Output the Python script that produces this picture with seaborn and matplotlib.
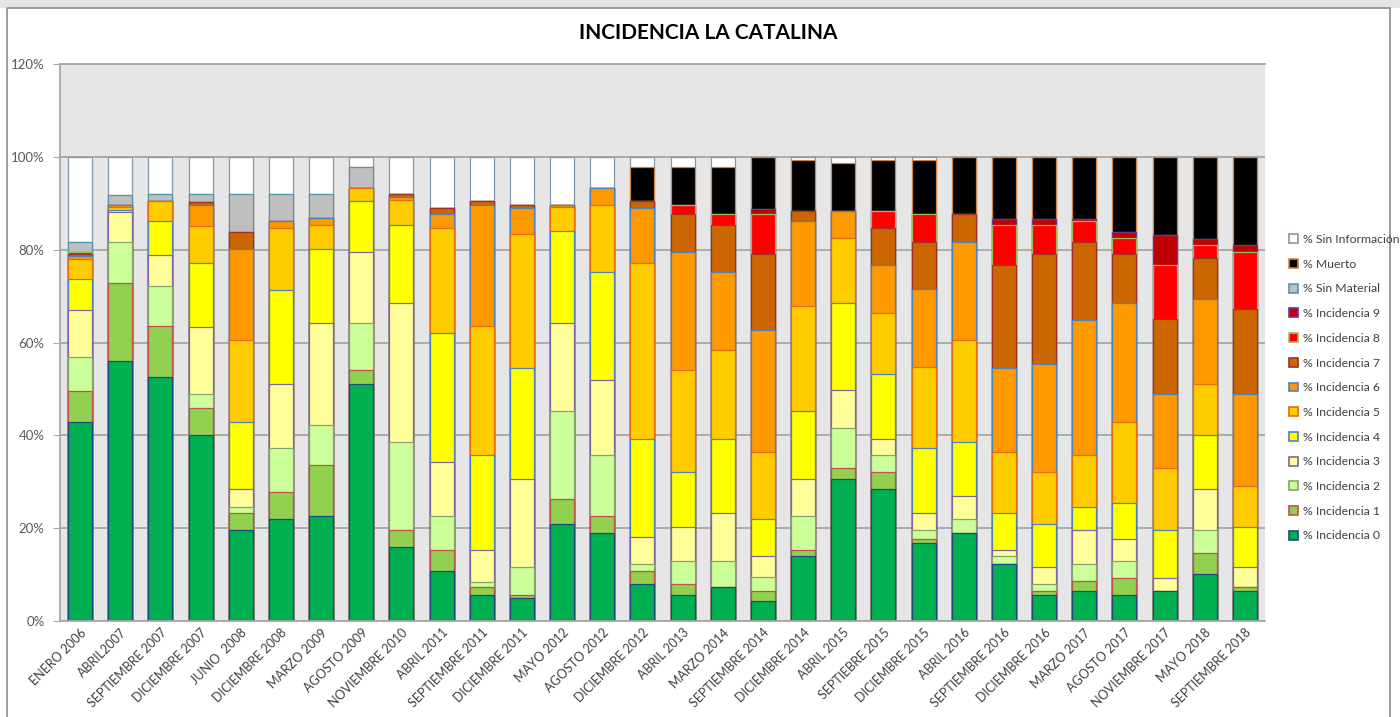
import numpy as np
import matplotlib
matplotlib.use("Agg")
import matplotlib.pyplot as plt
import seaborn as sns
from matplotlib.patches import Rectangle

plt.rcParams["font.family"] = ["Lato", "DejaVu Sans"]

fechas = ["ENERO 2006", "ABRIL2007", "SEPTIEMBRE 2007", "DICIEMBRE 2007", "JUNIO  2008",
          "DICIEMBRE 2008", "MARZO 2009", "AGOSTO 2009", "NOVIEMBRE 2010", "ABRIL 2011",
          "SEPTIEMBRE 2011", "DICIEMBRE 2011", "MAYO 2012", "AGOSTO 2012", "DICIEMBRE 2012",
          "ABRIL 2013", "MARZO 2014", "SEPTIEMBRE 2014", "DICIEMBRE 2014", "ABRIL 2015",
          "SEPTIEBRE 2015", "DICIEMBRE 2015", "ABRIL 2016", "SEPTIEMBRE 2016", "DICIEMBRE 2016",
          "MARZO 2017", "AGOSTO 2017", "NOVIEMBRE 2017", "MAYO 2018", "SEPTIEMBRE 2018"]

# Percentages per sampling date
inc0 = [42.9, 56.1, 52.5, 40.0, 19.5, 21.9, 22.6, 51.0, 16.0, 10.8, 5.7, 5.0, 21.0, 18.9, 7.9,
        5.6, 7.3, 4.3, 13.9, 30.6, 28.4, 16.7, 18.9, 12.2, 5.7, 6.5, 5.7, 6.5, 10.1, 6.5]
inc1 = [6.7, 16.8, 11.0, 5.9, 3.7, 5.8, 11.0, 3.1, 3.6, 4.5, 1.6, 0.6, 5.2, 3.7, 2.9,
        2.3, 0.0, 2.2, 1.4, 2.3, 3.6, 0.9, 0.0, 0.0, 0.8, 2.2, 3.6, 0.0, 4.5, 0.8]
inc2 = [7.3, 8.7, 8.6, 2.9, 1.4, 9.5, 8.6, 10.2, 19.0, 7.3, 1.2, 6.1, 19.0, 13.2, 1.4,
        5.1, 5.7, 2.9, 7.3, 8.6, 3.8, 2.0, 3.0, 1.7, 1.4, 3.5, 3.7, 0.0, 5.0, 0.0]
inc3 = [10.2, 6.5, 6.7, 14.6, 3.8, 13.8, 22.1, 15.2, 30.0, 11.7, 6.8, 18.9, 19.1, 16.1, 6.0,
        7.3, 10.3, 4.5, 8.0, 8.2, 3.5, 3.7, 5.1, 1.4, 3.8, 7.4, 4.6, 2.8, 8.8, 4.4]
inc4 = [6.6, 0.5, 7.3, 13.8, 14.5, 20.4, 15.9, 11.0, 16.7, 27.7, 20.5, 24.0, 19.7, 23.3, 21.1,
        11.7, 16.0, 8.0, 14.6, 18.9, 14.0, 13.9, 11.5, 8.0, 9.3, 5.0, 7.9, 10.3, 11.6, 8.6]
inc5 = [4.3, 0.6, 4.4, 8.0, 17.6, 13.2, 5.1, 2.8, 5.4, 22.7, 27.7, 28.7, 5.1, 14.5, 37.9,
        22.1, 19.1, 14.6, 22.7, 14.0, 13.1, 17.6, 22.0, 13.2, 11.0, 11.1, 17.4, 13.3, 11.0, 8.8]
inc6 = [0.6, 0.5, 0.0, 4.4, 19.7, 1.5, 1.5, 0.0, 0.7, 2.9, 26.2, 5.7, 0.5, 3.6, 11.8,
        25.4, 16.8, 26.2, 18.3, 5.7, 10.3, 16.8, 21.1, 18.1, 23.3, 29.1, 25.7, 15.9, 18.3, 19.7]
inc7 = [0.5, 0.0, 0.0, 0.7, 3.6, 0.0, 0.0, 0.0, 0.5, 1.3, 0.8, 0.6, 0.0, 0.0, 1.5,
        8.1, 10.2, 16.3, 2.1, 0.0, 8.0, 10.1, 6.1, 22.1, 23.7, 16.9, 10.4, 16.2, 8.8, 18.4]
inc8 = [0.3, 0.0, 0.0, 0.0, 0.0, 0.0, 0.0, 0.0, 0.0, 0.0, 0.0, 0.0, 0.0, 0.0, 0.0,
        2.1, 2.2, 8.6, 0.0, 0.0, 3.6, 5.9, 0.0, 8.6, 6.3, 4.4, 3.6, 11.7, 2.9, 12.3]
inc9 = [0.0, 0.0, 0.0, 0.0, 0.0, 0.0, 0.0, 0.0, 0.0, 0.0, 0.0, 0.0, 0.0, 0.0, 0.0,
        0.0, 0.0, 1.2, 0.0, 0.0, 0.0, 0.0, 0.0, 1.4, 1.4, 0.6, 1.2, 6.4, 1.4, 1.5]
sin_material = [2.3, 2.1, 1.4, 1.6, 8.1, 5.8, 5.1, 4.5, 0.0, 0.0, 0.0, 0.0, 0.0, 0.0, 0.0,
                0.0, 0.0, 0.0, 0.0, 0.0, 0.0, 0.0, 0.0, 0.0, 0.0, 0.0, 0.0, 0.0, 0.0, 0.0]
muerto = [0.0, 0.0, 0.0, 0.0, 0.0, 0.0, 0.0, 0.0, 0.0, 0.0, 0.0, 0.0, 0.0, 0.0, 7.3,
          8.1, 10.2, 11.2, 11.0, 10.3, 11.0, 11.7, 12.3, 13.3, 13.3, 13.3, 16.2, 16.9, 17.6, 19.0]
sin_info = [18.3, 8.2, 8.1, 8.1, 8.1, 8.1, 8.1, 2.2, 8.1, 11.1, 9.5, 10.4, 10.4, 6.7, 2.2,
            2.2, 2.2, 0.0, 0.7, 1.4, 0.7, 0.7, 0.0, 0.0, 0.0, 0.0, 0.0, 0.0, 0.0, 0.0]

# (label, values, face colour, edge colour) from bottom to top of each stack
series = [
    ("% Incidencia 0", inc0, "#00B050", "#1F497D"),
    ("% Incidencia 1", inc1, "#92D050", "#C0504D"),
    ("% Incidencia 2", inc2, "#CCFF99", "#8AA070"),
    ("% Incidencia 3", inc3, "#FFFF99", "#8064A2"),
    ("% Incidencia 4", inc4, "#FFFF00", "#4F81BD"),
    ("% Incidencia 5", inc5, "#FFCC00", "#E46C0A"),
    ("% Incidencia 6", inc6, "#FF9900", "#4F81BD"),
    ("% Incidencia 7", inc7, "#CC6600", "#A0302A"),
    ("% Incidencia 8", inc8, "#FF0000", "#9BBB59"),
    ("% Incidencia 9", inc9, "#C00000", "#7030A0"),
    ("% Sin Material", sin_material, "#BFBFBF", "#4A9BB0"),
    ("% Muerto", muerto, "#000000", "#D08040"),
    ("% Sin Información", sin_info, "#FFFFFF", "#8497B0"),
]

W, H = 1400, 717
fig = plt.figure(figsize=(W / 100, H / 100), dpi=100)
fig.patch.set_facecolor("white")

# thin header strip and frame around the chart
fig.add_artist(Rectangle((0, 1 - 8 / H), 1, 8 / H, transform=fig.transFigure,
                         facecolor="#E4E4E4", edgecolor="none"))
fig.add_artist(Rectangle((7 / W, -0.05), (1390 - 7) / W, 1 - 8 / H + 0.05,
                         transform=fig.transFigure, facecolor="none",
                         edgecolor="#8C8C8C", linewidth=1.2))

ax = fig.add_axes([60 / W, 1 - 621 / H, 1205 / W, (621 - 64) / H])
ax.set_facecolor("#E6E6E6")

cum = np.cumsum(np.array([s[1] for s in series]), axis=0)
for i in range(len(series) - 1, -1, -1):
    label, _, face, edge = series[i]
    sns.barplot(x=fechas, y=cum[i], order=fechas, color=face, saturation=1,
                edgecolor=edge, linewidth=0.9, width=0.6, errorbar=None, ax=ax)

ax.set_ylim(0, 120)
ax.set_xlim(-0.5, len(fechas) - 0.5)
yt = list(range(0, 121, 20))
ax.set_yticks(yt)
ax.set_yticklabels([f"{v}%" for v in yt], fontsize=9.5, color="#595959")
ax.yaxis.grid(True, color="#A6A6A6", linewidth=1.3)
ax.set_axisbelow(True)
ax.tick_params(axis="y", length=5, color="#A6A6A6", pad=6)
ax.tick_params(axis="x", length=0, pad=4)
ax.set_xticks(range(len(fechas)))
ax.set_xticklabels(fechas, rotation=45, ha="right", rotation_mode="anchor",
                   fontsize=9, color="#404040")
ax.set_xlabel("")
ax.set_ylabel("")
for side in ["left", "bottom", "top"]:
    ax.spines[side].set_color("#A6A6A6")
    ax.spines[side].set_linewidth(1.3)
ax.spines["right"].set_visible(False)

fig.text(708 / W, 1 - 33 / H, "INCIDENCIA LA CATALINA", ha="center", va="center",
         fontsize=15, fontweight="bold", color="black")

handles = [Rectangle((0, 0), 1, 1, facecolor=f, edgecolor=e, linewidth=1.2)
           for _, _, f, e in series[::-1]]
labels = [s[0] for s in series[::-1]]
fig.legend(handles, labels, loc="upper left", bbox_to_anchor=(1283 / W, 1 - 228 / H),
           frameon=False, fontsize=8.8, labelspacing=1.12, handlelength=0.75,
           handleheight=0.75, handletextpad=0.35, borderpad=0, labelcolor="#404040")

fig.savefig("out.png", dpi=100)
